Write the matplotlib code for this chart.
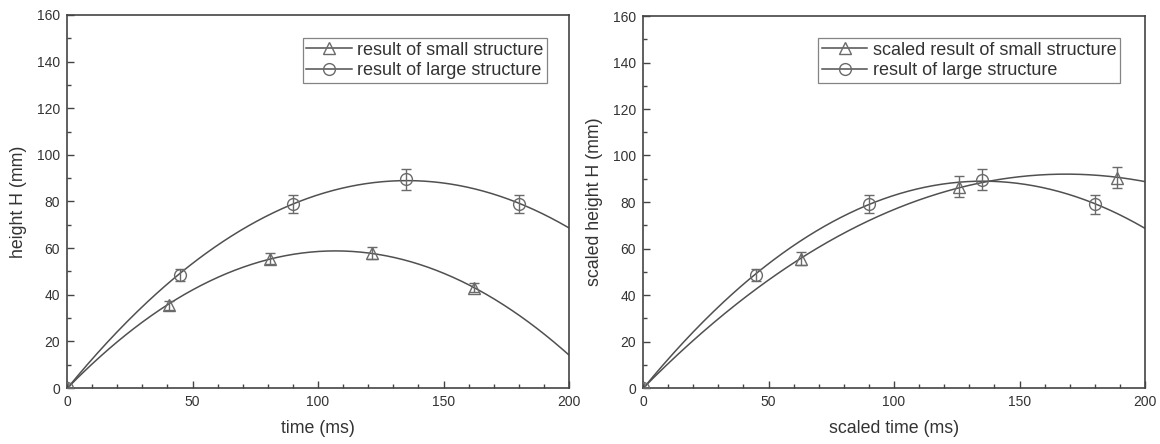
import numpy as np
import matplotlib
matplotlib.use("Agg")
import matplotlib.pyplot as plt
from matplotlib.ticker import MultipleLocator

plt.rcParams['font.family'] = ['Liberation Sans', 'DejaVu Sans']

# ---- data (left panel) ----
t_small = [0, 40.5, 81, 121.5, 162]
h_small = [0, 35.5, 55.5, 58, 43]
e_small = [0, 2.0, 2.5, 2.5, 2.0]

t_large = [0, 45, 90, 135, 180]
h_large = [0, 48.5, 79, 89.5, 79]
e_large = [0, 2.5, 3.8, 4.5, 4.0]

# ---- data (right panel) ----
t_small_scaled = [0, 63, 126, 189]
h_small_scaled = [0, 55.5, 86.5, 90.5]
e_small_scaled = [0, 2.8, 4.5, 4.5]

label_small = "result of small structure"
label_small_scaled = "scaled result of small structure"
label_large = "result of large structure"

LINE = '#505050'
MARK = '#6a6a6a'
TXT = '#333333'

fig = plt.figure(figsize=(11.6, 4.44), dpi=100)
axL = fig.add_axes([67/1160, 56/444, 502/1160, 373/444])
axR = fig.add_axes([643/1160, 56/444, 502/1160, 372/444])


def fit_curve(x, y, xmax=200):
    c = np.polyfit(x, y, 2)
    xs = np.linspace(0, xmax, 300)
    return xs, np.polyval(c, xs)


def draw(ax, x, y, e, marker, label):
    xs, ys = fit_curve(x, y)
    ax.plot(xs, ys, color=LINE, lw=1.1, zorder=2)
    ax.errorbar(x, y, yerr=e, fmt='none', ecolor=MARK, elinewidth=1.0,
                capsize=3.5, capthick=1.0, zorder=3)
    ax.plot(x, y, linestyle='none', marker=marker, ms=8.5, mfc='none',
            mec=MARK, mew=1.0, zorder=4)
    ax.plot([], [], color=LINE, lw=1.1, marker=marker, ms=8.5, mfc='none',
            mec=MARK, mew=1.0, label=label)


draw(axL, t_small, h_small, e_small, '^', label_small)
draw(axL, t_large, h_large, e_large, 'o', label_large)

draw(axR, t_small_scaled, h_small_scaled, e_small_scaled, '^', label_small_scaled)
draw(axR, t_large, h_large, e_large, 'o', label_large)

for ax, xl, yl, anchor in [(axL, "time (ms)", "height H (mm)", (0.956, 0.938)),
                           (axR, "scaled time (ms)", "scaled height H (mm)", (0.950, 0.941))]:
    ax.set_xlim(0, 200)
    ax.set_ylim(0, 160)
    ax.xaxis.set_major_locator(MultipleLocator(50))
    ax.xaxis.set_minor_locator(MultipleLocator(10))
    ax.yaxis.set_major_locator(MultipleLocator(20))
    ax.yaxis.set_minor_locator(MultipleLocator(10))
    ax.tick_params(which='both', direction='in', top=False, right=False,
                   colors='#444444', labelcolor=TXT, labelsize=10, width=1.0)
    ax.tick_params(which='major', length=5, pad=5)
    ax.tick_params(which='minor', length=3)
    for s in ax.spines.values():
        s.set_color('#444444')
        s.set_linewidth(1.2)
    ax.set_xlabel(xl, fontsize=12.8, color=TXT, labelpad=8)
    ax.set_ylabel(yl, fontsize=12.8, color=TXT, labelpad=7)
    leg = ax.legend(loc='upper right', bbox_to_anchor=anchor,
                    frameon=True, fancybox=False, fontsize=13,
                    handlelength=2.5, handletextpad=0.3, borderpad=0.2,
                    labelspacing=0.2, borderaxespad=0)
    leg.get_frame().set_edgecolor('#666666')
    leg.get_frame().set_linewidth(0.9)
    for t in leg.get_texts():
        t.set_color(TXT)

fig.savefig("out.png", dpi=100)
